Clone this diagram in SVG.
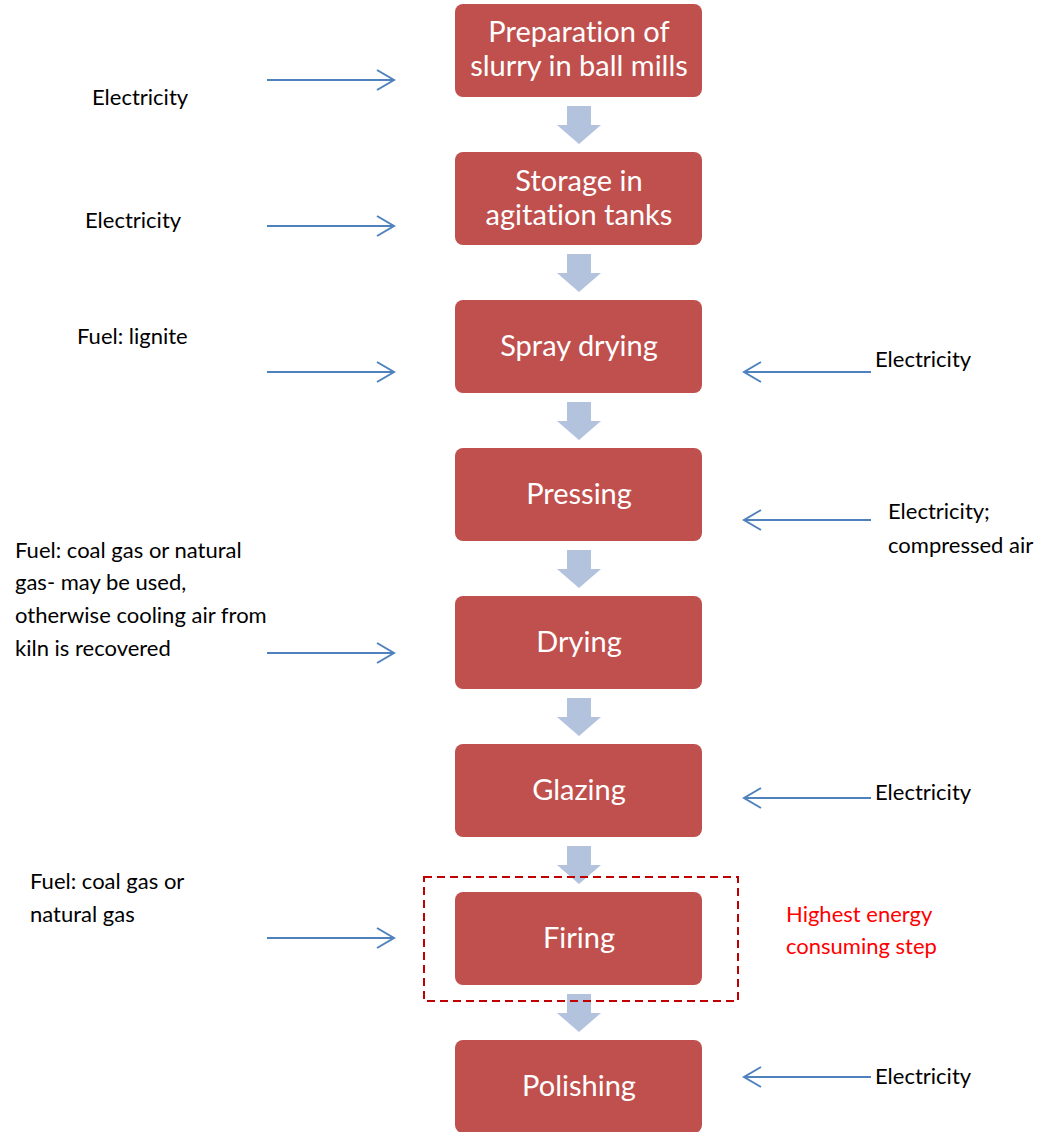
<svg xmlns="http://www.w3.org/2000/svg" width="1045" height="1132" viewBox="0 0 1045 1132">
  <style>
    text { font-variant-ligatures: none; font-feature-settings: "liga" 0, "clig" 0, "dlig" 0; }
    .box { fill: #C0504D; }
    .btxt { fill: #FFFFFF; font-family: Lato, "Open Sans", sans-serif; font-size: 29px; text-anchor: middle; }
    .lbl { fill: #000000; font-family: Lato, "Open Sans", sans-serif; font-size: 22px; }
    .hot { fill: #FF0000; font-family: Lato, "Open Sans", sans-serif; font-size: 22px; }
    .flow { fill: #B3C3DE; }
    .feed { stroke: #4F81BD; stroke-width: 2; fill: none; }
    .focus { fill: none; stroke: #C00000; stroke-width: 2; stroke-dasharray: 8 5; }
  </style>
  <defs>
    <!-- chunky down arrow between process steps -->
    <path id="down" class="flow" d="M-12,0 H12 V19 H22 L0,38 L-22,19 H-12 Z"/>
    <!-- open V heads for energy input lines, tip at origin -->
    <path id="headR" class="feed" d="M-17,-10 L0,0 L-17,10"/>
    <path id="headL" class="feed" d="M17,-10 L0,0 L17,10"/>
  </defs>

  <rect width="1045" height="1132" fill="#FFFFFF"/>

  <!-- process chain connectors and energy inputs -->
  <g id="connectors">
    <use href="#down" x="579" y="106"/>
    <use href="#down" x="579" y="254"/>
    <use href="#down" x="579" y="402"/>
    <use href="#down" x="579" y="550"/>
    <use href="#down" x="579" y="698"/>
    <use href="#down" x="579" y="846"/>
    <use href="#down" x="579" y="994"/>

    <!-- inputs from the left -->
    <line class="feed" x1="267" y1="80" x2="394" y2="80"/><use href="#headR" x="394" y="80"/>
    <line class="feed" x1="267" y1="226" x2="394" y2="226"/><use href="#headR" x="394" y="226"/>
    <line class="feed" x1="267" y1="372" x2="394" y2="372"/><use href="#headR" x="394" y="372"/>
    <line class="feed" x1="267" y1="653" x2="394" y2="653"/><use href="#headR" x="394" y="653"/>
    <line class="feed" x1="267" y1="938" x2="394" y2="938"/><use href="#headR" x="394" y="938"/>

    <!-- inputs from the right -->
    <line class="feed" x1="871" y1="372" x2="744" y2="372"/><use href="#headL" x="744" y="372"/>
    <line class="feed" x1="871" y1="520" x2="744" y2="520"/><use href="#headL" x="744" y="520"/>
    <line class="feed" x1="871" y1="798" x2="744" y2="798"/><use href="#headL" x="744" y="798"/>
    <line class="feed" x1="871" y1="1077" x2="744" y2="1077"/><use href="#headL" x="744" y="1077"/>
  </g>

  <!-- process steps -->
  <g id="step-slurry">
    <rect class="box" x="455" y="4" width="247" height="93" rx="8"/>
    <text class="btxt" x="579" y="42">Preparation of</text>
    <text class="btxt" x="579" y="76">slurry in ball mills</text>
  </g>
  <g id="step-storage">
    <rect class="box" x="455" y="152" width="247" height="93" rx="8"/>
    <text class="btxt" x="579" y="191">Storage in</text>
    <text class="btxt" x="579" y="225">agitation tanks</text>
  </g>
  <g id="step-spray">
    <rect class="box" x="455" y="300" width="247" height="93" rx="8"/>
    <text class="btxt" x="579" y="356">Spray drying</text>
  </g>
  <g id="step-pressing">
    <rect class="box" x="455" y="448" width="247" height="93" rx="8"/>
    <text class="btxt" x="579" y="504">Pressing</text>
  </g>
  <g id="step-drying">
    <rect class="box" x="455" y="596" width="247" height="93" rx="8"/>
    <text class="btxt" x="579" y="652">Drying</text>
  </g>
  <g id="step-glazing">
    <rect class="box" x="455" y="744" width="247" height="93" rx="8"/>
    <text class="btxt" x="579" y="800">Glazing</text>
  </g>
  <g id="step-firing">
    <rect class="box" x="455" y="892" width="247" height="93" rx="8"/>
    <text class="btxt" x="579" y="948">Firing</text>
    <rect class="focus" x="424" y="877" width="314" height="124"/>
  </g>
  <g id="step-polishing">
    <rect class="box" x="455" y="1040" width="247" height="93" rx="8"/>
    <text class="btxt" x="579" y="1096">Polishing</text>
  </g>

  <!-- energy input labels -->
  <g id="labels">
    <text class="lbl" x="92" y="105">Electricity</text>
    <text class="lbl" x="85" y="228">Electricity</text>
    <text class="lbl" x="77" y="344">Fuel: lignite</text>
    <text class="lbl" x="15" y="558">Fuel: coal gas or natural</text>
    <text class="lbl" x="15" y="590">gas- may be used,</text>
    <text class="lbl" x="15" y="623">otherwise cooling air from</text>
    <text class="lbl" x="15" y="656">kiln is recovered</text>
    <text class="lbl" x="30" y="889">Fuel: coal gas or</text>
    <text class="lbl" x="30" y="922">natural gas</text>

    <text class="lbl" x="875" y="367">Electricity</text>
    <text class="lbl" x="888" y="519">Electricity;</text>
    <text class="lbl" x="888" y="553">compressed air</text>
    <text class="lbl" x="875" y="800">Electricity</text>
    <text class="lbl" x="875" y="1084">Electricity</text>

    <text class="hot" x="786" y="922">Highest energy</text>
    <text class="hot" x="786" y="954">consuming step</text>
  </g>
</svg>
